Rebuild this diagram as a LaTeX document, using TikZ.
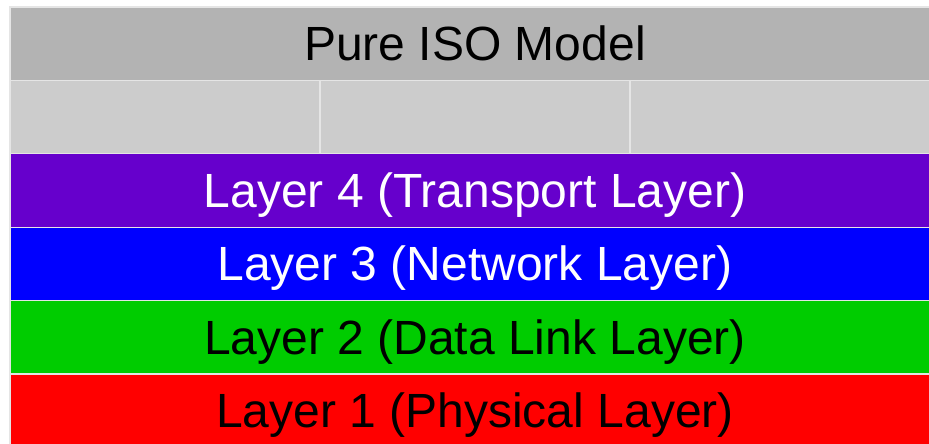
\documentclass[tikz,border=0pt]{standalone}
\usepackage{fontspec}
\setmainfont{Liberation Sans}
\usepackage{tikz}
\usetikzlibrary{positioning}

\definecolor{hdrgray}{HTML}{B3B3B3}
\definecolor{cellgray}{HTML}{CCCCCC}
\definecolor{lpurple}{HTML}{6600CC}
\definecolor{lblue}{HTML}{0000FF}
\definecolor{lgreen}{HTML}{00CC00}
\definecolor{lred}{HTML}{FF0000}

\begin{document}
\begin{tikzpicture}
[x=1pt,y=1pt,node distance=0pt]
\tikzset{
	layer/.style = {rectangle, draw = white!90!black, line width = 1.2pt,
		inner sep = 0, outer sep = 0,
		minimum width = 930pt, minimum height = 73.4pt,
		text height = 34pt, text depth = 0pt,
		font = \fontsize{48}{50}\selectfont},
	cell/.style = {layer, minimum width = 310pt, fill = cellgray}
}

\useasboundingbox (0,0) rectangle (929,-444);

\node(hdr) [layer, fill = hdrgray, anchor = north west] at (10,-7) {Pure ISO Model};

\node(c1) [cell, below right = 0pt and 0pt of hdr.south west] {};
\node(c2) [cell, right = of c1] {};
\node(c3) [cell, right = of c2] {};

\node(l4) [layer, fill = lpurple, text = white, below = of c2] {Layer 4 (Transport Layer)};
\node(l3) [layer, fill = lblue, text = white, below = of l4] {Layer 3 (Network Layer)};
\node(l2) [layer, fill = lgreen, below = of l3] {Layer 2 (Data Link Layer)};
\node(l1) [layer, fill = lred, below = of l2] {Layer 1 (Physical Layer)};

\end{tikzpicture}
\end{document}
